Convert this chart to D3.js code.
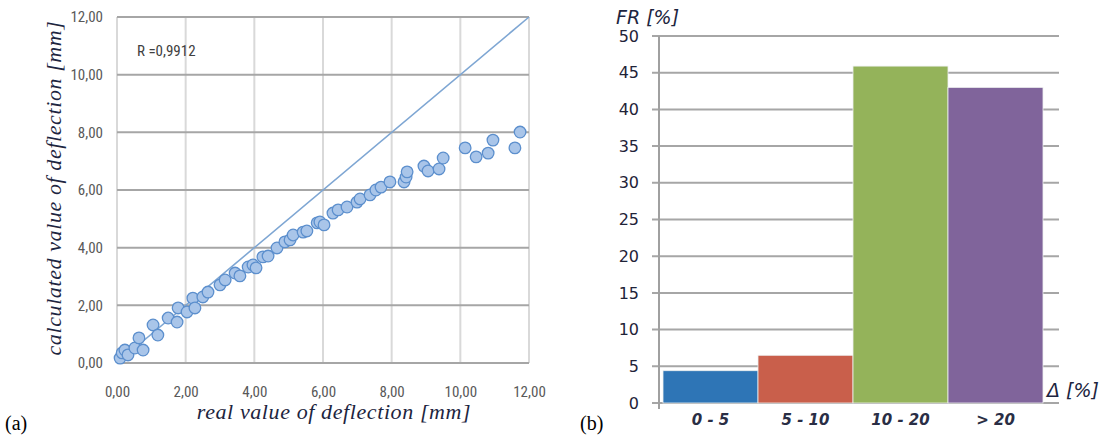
<!DOCTYPE html>
<html>
<head>
<meta charset="utf-8">
<script src="https://cdn.jsdelivr.net/npm/d3@7"></script>
<style>
  body { margin: 0; background: #fff; }
  svg { display: block; }
</style>
</head>
<body>
<div class="chart"></div>
<script>
// (a) scatter: real vs calculated deflection [mm]
var realValue = [0.09, 0.15, 0.23, 0.32, 0.52, 0.64, 0.76, 1.05, 1.19, 1.49, 1.75, 1.78, 2.04, 2.21, 2.27,
                 2.50, 2.65, 3.00, 3.15, 3.44, 3.58, 3.82, 3.96, 4.05, 4.25, 4.40, 4.66, 4.89, 5.04, 5.13,
                 5.42, 5.53, 5.83, 5.91, 6.03, 6.29, 6.44, 6.70, 6.99, 7.08, 7.37, 7.54, 7.69, 7.95, 8.36,
                 8.42, 8.45, 8.94, 9.06, 9.38, 9.50, 10.14, 10.46, 10.81, 10.95, 11.59, 11.74];
var calcValue = [0.17, 0.35, 0.45, 0.28, 0.52, 0.87, 0.45, 1.32, 0.97, 1.56, 1.42, 1.91, 1.77, 2.25, 1.91,
                 2.29, 2.46, 2.71, 2.88, 3.12, 3.02, 3.33, 3.40, 3.30, 3.68, 3.71, 3.99, 4.20, 4.27, 4.44,
                 4.54, 4.58, 4.86, 4.89, 4.79, 5.20, 5.31, 5.41, 5.58, 5.69, 5.83, 6.00, 6.10, 6.28, 6.28,
                 6.45, 6.63, 6.83, 6.66, 6.73, 7.11, 7.46, 7.15, 7.28, 7.73, 7.46, 8.01];
var axisTicks = [0, 2, 4, 6, 8, 10, 12];
var rLabel = "R =0,9912";

// (b) bars: FR [%] by deviation class
var classes = ["0 - 5", "5 - 10", "10 - 20", "> 20"];
var frValues = [4.4, 6.5, 45.9, 43.0];
var frTicks = [0, 5, 10, 15, 20, 25, 30, 35, 40, 45, 50];
var barColors = ["#2e75b6", "#c95f4b", "#94b35a", "#80649b"];

var width = 1107, height = 438;
var svg = d3.select(".chart").append("svg")
    .attr("width", width)
    .attr("height", height);

var fmt = function(d){ return d3.format(".2f")(d).replace(".", ","); };
var narrow = "'Liberation Sans Narrow', 'Arial Narrow', 'Roboto Condensed', sans-serif";
var serifTitle = "'Liberation Serif', 'Times New Roman', serif";
var titleColor = "#1d2540";

// ---------- left chart ----------
var x = d3.scaleLinear().domain([0, 12]).range([117, 529]);
var y = d3.scaleLinear().domain([0, 12]).range([363, 17]);

var left = svg.append("g");

// vertical grid (light)
left.selectAll(".vgrid")
    .data(axisTicks)
    .enter()
    .append("line")
    .attr("x1", function(d){ return x(d); })
    .attr("x2", function(d){ return x(d); })
    .attr("y1", y(12))
    .attr("y2", y(0))
    .attr("stroke", "#d9d9d9")
    .attr("stroke-width", 2);

// horizontal grid (darker)
left.selectAll(".hgrid")
    .data(axisTicks)
    .enter()
    .append("line")
    .attr("x1", x(0))
    .attr("x2", x(12))
    .attr("y1", function(d){ return y(d); })
    .attr("y2", function(d){ return y(d); })
    .attr("stroke", "#a6a6a6")
    .attr("stroke-width", 2);

var yAxis = d3.axisLeft(y).tickValues(axisTicks).tickFormat(fmt).tickSize(0).tickPadding(14);
left.append("g")
    .attr("transform", "translate(" + x(0) + ",0)")
    .call(yAxis)
    .call(function(g){ g.select(".domain").remove(); })
    .selectAll("text")
    .attr("font-family", narrow)
    .attr("font-size", 15)
    .attr("fill", "#595959");

var xAxis = d3.axisBottom(x).tickValues(axisTicks).tickFormat(fmt).tickSize(0).tickPadding(23);
left.append("g")
    .attr("transform", "translate(0," + y(0) + ")")
    .call(xAxis)
    .call(function(g){ g.select(".domain").remove(); })
    .selectAll("text")
    .attr("font-family", narrow)
    .attr("font-size", 15)
    .attr("fill", "#595959");

// 1:1 line
left.append("line")
    .attr("x1", x(0)).attr("y1", y(0))
    .attr("x2", x(12)).attr("y2", y(12))
    .attr("stroke", "#7ea6d3")
    .attr("stroke-width", 1.6);

var pts = realValue.map(function(d, i){ return [d, calcValue[i]]; });
left.selectAll(".pt")
    .data(pts)
    .enter()
    .append("circle")
    .attr("cx", function(d){ return x(d[0]); })
    .attr("cy", function(d){ return y(d[1]); })
    .attr("r", 5.8)
    .attr("fill", "#a9c5e9")
    .attr("stroke", "#5c8fcd")
    .attr("stroke-width", 1.3);

left.append("text")
    .attr("x", 137).attr("y", 56)
    .attr("font-family", narrow)
    .attr("font-size", 15)
    .attr("fill", "#404040")
    .text(rLabel);

left.append("text")
    .attr("transform", "translate(61,188) rotate(-90)")
    .attr("text-anchor", "middle")
    .attr("font-family", serifTitle)
    .attr("font-style", "italic")
    .attr("font-size", 22)
    .attr("letter-spacing", 0.6)
    .attr("fill", titleColor)
    .text("calculated value of deflection [mm]");

left.append("text")
    .attr("x", 334).attr("y", 419)
    .attr("text-anchor", "middle")
    .attr("font-family", serifTitle)
    .attr("font-style", "italic")
    .attr("font-size", 22)
    .attr("letter-spacing", 0.6)
    .attr("fill", titleColor)
    .text("real value of deflection [mm]");

svg.append("text")
    .attr("x", 5).attr("y", 430)
    .attr("font-family", "'Liberation Serif', serif")
    .attr("font-size", 20)
    .attr("fill", "#000")
    .text("(a)");

// ---------- right chart ----------
var yb = d3.scaleLinear().domain([0, 50]).range([403, 36]);
var xb = d3.scaleBand().domain(classes).range([663, 1043]).padding(0);

var right = svg.append("g");

right.selectAll(".bgrid")
    .data(frTicks)
    .enter()
    .append("line")
    .attr("x1", 652)
    .attr("x2", 1059)
    .attr("y1", function(d){ return yb(d); })
    .attr("y2", function(d){ return yb(d); })
    .attr("stroke", "#a6a6a6")
    .attr("stroke-width", 2);

right.append("line")
    .attr("x1", 659).attr("x2", 659)
    .attr("y1", yb(50)).attr("y2", 409)
    .attr("stroke", "#a0a0a0")
    .attr("stroke-width", 2);

right.selectAll(".bar")
    .data(frValues)
    .enter()
    .append("rect")
    .attr("x", function(d, i){ return xb(classes[i]); })
    .attr("y", function(d){ return yb(d); })
    .attr("width", xb.bandwidth())
    .attr("height", function(d){ return yb(0) - yb(d); })
    .attr("fill", function(d, i){ return barColors[i]; })
    .attr("stroke", "#eef0f0")
    .attr("stroke-width", 0.8);

var ybAxis = d3.axisLeft(yb).tickValues(frTicks).tickSize(0).tickPadding(20);
right.append("g")
    .attr("transform", "translate(659,0)")
    .call(ybAxis)
    .call(function(g){ g.select(".domain").remove(); })
    .selectAll("text")
    .attr("font-family", "'DejaVu Sans', Verdana, sans-serif")
    .attr("font-size", 16)
    .attr("fill", "#1f2338");

var xbAxis = d3.axisBottom(xb).tickSize(0).tickPadding(11);
right.append("g")
    .attr("transform", "translate(0," + yb(0) + ")")
    .call(xbAxis)
    .call(function(g){ g.select(".domain").remove(); })
    .selectAll("text")
    .attr("font-family", "'DejaVu Sans', Verdana, sans-serif")
    .attr("font-style", "italic")
    .attr("font-weight", "bold")
    .attr("font-size", 15)
    .attr("fill", "#2a2e45");

right.append("text")
    .attr("x", 616).attr("y", 24)
    .attr("font-family", "'DejaVu Sans', sans-serif")
    .attr("font-style", "italic")
    .attr("font-size", 19)
    .attr("fill", titleColor)
    .text("FR [%]");

right.append("text")
    .attr("x", 1047).attr("y", 397)
    .attr("font-family", "'DejaVu Sans', sans-serif")
    .attr("font-style", "italic")
    .attr("font-size", 19)
    .attr("fill", titleColor)
    .text("Δ [%]");

svg.append("text")
    .attr("x", 580).attr("y", 430)
    .attr("font-family", "'Liberation Serif', serif")
    .attr("font-size", 20)
    .attr("fill", "#000")
    .text("(b)");
</script>
</body>
</html>
